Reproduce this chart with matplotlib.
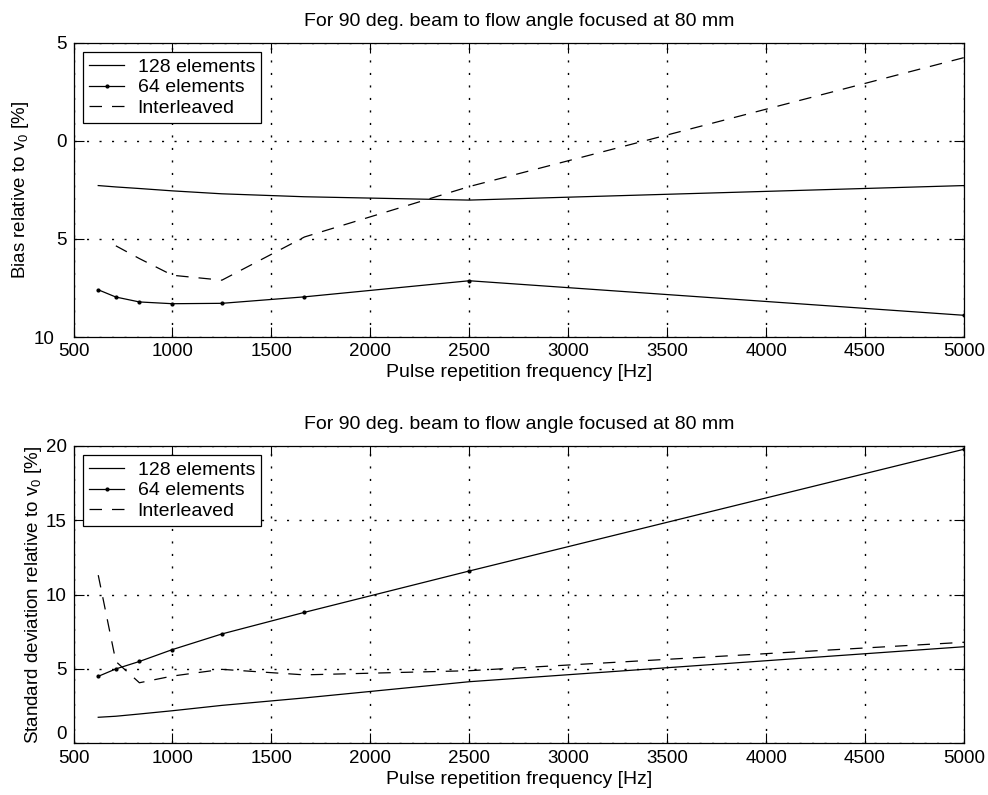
import matplotlib
matplotlib.use('Agg')
import matplotlib.pyplot as plt
import matplotlib.transforms as mtransforms

plt.rcParams['font.family'] = ['Liberation Sans', 'DejaVu Sans']
plt.rcParams['mathtext.default'] = 'regular'

# PRF values [Hz]
prf = [625, 714, 833, 1000, 1250, 1667, 2500, 5000]
prf_il = [714, 833, 1000, 1250, 1667, 2500, 5000]

# bias relative to v0 [%]
bias_128 = [-2.28, -2.35, -2.43, -2.55, -2.7, -2.85, -3.02, -2.28]
bias_64 = [-7.59, -7.96, -8.21, -8.3, -8.28, -7.95, -7.13, -8.89]
bias_il = [-5.35, -6.0, -6.85, -7.1, -4.9, -2.33, 4.24]

# standard deviation relative to v0 [%]
std_128 = [1.75, 1.82, 1.97, 2.19, 2.55, 3.05, 4.14, 6.49]
std_64 = [4.5, 5.0, 5.5, 6.3, 7.35, 8.8, 11.58, 19.76]
std_il = [11.3, 5.5, 4.07, 4.52, 4.97, 4.6, 4.88, 6.79]

title = 'For 90 deg. beam to flow angle focused at 80 mm'
xlab = 'Pulse repetition frequency [Hz]'

fig = plt.figure(figsize=(9.88, 7.95), dpi=100)
ax1 = fig.add_axes([0.0744, 0.576, 0.9013, 0.3703])
ax2 = fig.add_axes([0.0744, 0.065, 0.9013, 0.3744])

lw = 0.9
dash = (0, (10, 8))
for ax in (ax1, ax2):
    ax.set_xlim(500, 5000)
    ax.set_xticks(range(500, 5001, 500))
    ax.grid(True, linestyle=(0, (1.5, 7.5)), color='black', linewidth=1.0)
    ax.tick_params(direction='in', top=True, right=True, length=7,
                   labelsize=13.5, width=0.8)
    ax.tick_params(axis='x', pad=4.5)
    ax.tick_params(axis='y', pad=5)
    for s in ax.spines.values():
        s.set_linewidth(0.9)
    ax.set_xlabel(xlab, fontsize=14, labelpad=3)
    ax.set_title(title, fontsize=14, pad=12)

# top: bias
ax1.plot(prf, bias_128, '-', color='black', lw=lw, label='128 elements')
ax1.plot(prf, bias_64, '-', color='black', lw=lw, marker='.', markersize=4,
         label='64 elements')
ax1.plot(prf_il, bias_il, color='black', lw=lw, linestyle=dash,
         label='Interleaved')
ax1.set_ylim(-10, 5)
ax1.set_yticks([-10, -5, 0, 5])
ax1.set_yticklabels(['10', '5', '0', '5'])
ax1.set_ylabel('Bias relative to v$_0$ [%]', fontsize=13.5, labelpad=2)

# bottom: standard deviation
ax2.plot(prf, std_128, '-', color='black', lw=lw, label='128 elements')
ax2.plot(prf, std_64, '-', color='black', lw=lw, marker='.', markersize=4,
         label='64 elements')
ax2.plot(prf, std_il, color='black', lw=lw, linestyle=dash,
         label='Interleaved')
ax2.set_ylim(0, 20)
ax2.set_yticks([0, 5, 10, 15, 20])
ax2.set_ylabel('Standard deviation relative to v$_0$ [%]', fontsize=13.5,
               labelpad=1)

# corner labels sit clear of the "500" below them, as in the scan
lab = ax1.get_yticklabels()[0]
lab.set_transform(lab.get_transform() +
                  mtransforms.ScaledTranslation(-0.12, 0, fig.dpi_scale_trans))
ax2.get_yticklabels()[0].set_verticalalignment('bottom')

for ax in (ax1, ax2):
    leg = ax.legend(loc='upper left', fontsize=14, handlelength=1.8,
                    handletextpad=0.7, fancybox=False, edgecolor='black',
                    framealpha=1, borderpad=0.3, labelspacing=0.15,
                    borderaxespad=0.5)
    leg.get_frame().set_linewidth(0.9)

fig.savefig('out.png', dpi=100)
